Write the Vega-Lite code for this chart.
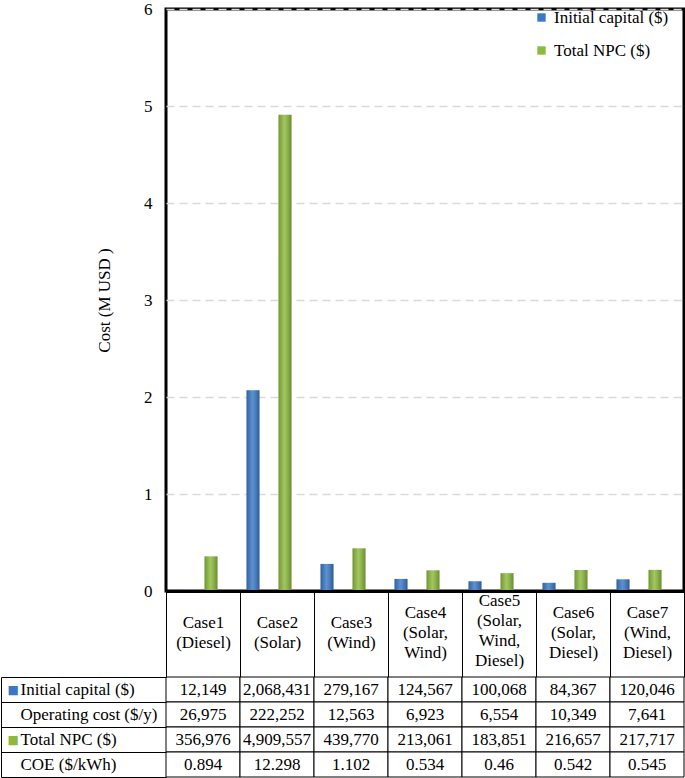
{
  "$schema": "https://vega.github.io/schema/vega-lite/v6.json",
  "background": "white",
  "padding": {"left": 0, "top": -2, "right": 0, "bottom": 2},
  "config": {
    "font": "Liberation Serif",
    "view": {"stroke": null},
    "axis": {"labelFont": "Liberation Serif", "titleFont": "Liberation Serif", "labelColor": "black", "titleColor": "black"},
    "legend": {"labelFont": "Liberation Serif", "labelColor": "black"}
  },
  "data": {
    "values": [
      {"case": "Case1 (Diesel)", "initial": 12149, "operating": 26975, "npc": 356976, "coe": 0.894},
      {"case": "Case2 (Solar)", "initial": 2068431, "operating": 222252, "npc": 4909557, "coe": 12.298},
      {"case": "Case3 (Wind)", "initial": 279167, "operating": 12563, "npc": 439770, "coe": 1.102},
      {"case": "Case4 (Solar, Wind)", "initial": 124567, "operating": 6923, "npc": 213061, "coe": 0.534},
      {"case": "Case5 (Solar, Wind, Diesel)", "initial": 100068, "operating": 6554, "npc": 183851, "coe": 0.46},
      {"case": "Case6 (Solar, Diesel)", "initial": 84367, "operating": 10349, "npc": 216657, "coe": 0.542},
      {"case": "Case7 (Wind, Diesel)", "initial": 120046, "operating": 7641, "npc": 217717, "coe": 0.545}
    ]
  },
  "spacing": 86,
  "bounds": "flush",
  "resolve": {"scale": {"x": "independent", "y": "independent"}},
  "vconcat": [
    {
      "width": 518,
      "height": 582,
      "view": {"stroke": "black", "strokeWidth": 3},
      "transform": [{"fold": ["initial", "npc"], "as": ["key", "amount"]}],
      "encoding": {
        "x": {
          "field": "case", "type": "nominal", "sort": null,
          "scale": {"domain": ["Case1 (Diesel)", "Case2 (Solar)", "Case3 (Wind)", "Case4 (Solar, Wind)", "Case5 (Solar, Wind, Diesel)", "Case6 (Solar, Diesel)", "Case7 (Wind, Diesel)"], "paddingInner": 0, "paddingOuter": 0},
          "axis": {
            "title": null,
            "labelExpr": "datum.value ? split(datum.value, ' ') : ''",
            "labelAngle": 0,
            "labelFontSize": 17, "labelLineHeight": 20, "labelBaseline": "alphabetic",
            "labelPadding": {
              "condition": [
                {"test": "datum.value && length(split(datum.value, ' ')) == 2", "value": -50},
                {"test": "datum.value && length(split(datum.value, ' ')) == 3", "value": -60}
              ],
              "value": -72
            },
            "tickBand": "extent", "tickSize": 86, "tickColor": "black",
            "tickWidth": 1, "domain": true, "domainColor": "black", "domainWidth": 3, "zindex": 1, "labelLimit": 0
          }
        },
        "xOffset": {
          "field": "key", "type": "nominal",
          "scale": {"domain": ["initial", "operating", "npc", "coe"], "paddingInner": 0.1875, "paddingOuter": 0.406}
        },
        "y": {
          "field": "amount", "type": "quantitative",
          "scale": {"domain": [0, 6000000], "nice": false},
          "axis": {
            "title": "Cost (M USD )", "values": [0, 1000000, 2000000, 3000000, 4000000, 5000000, 6000000],
            "labelExpr": "datum.value / 1000000", "grid": true, "gridDash": [8, 5], "gridColor": "#d9d9d9",
            "gridWidth": 1.5, "ticks": false, "domain": false, "labelPadding": 14, "labelFontSize": 17,
            "titleFontSize": 17, "titleFontWeight": "normal", "titlePadding": 30
          }
        }
      },
      "layer": [
        {
          "mark": {"type": "bar"},
          "encoding": {
            "color": {
              "field": "key", "type": "nominal",
              "scale": {"domain": ["initial", "npc"], "range": ["#3a78c6", "#8dba3c"]},
              "legend": {
                "title": null, "orient": "none", "legendX": 367, "legendY": 0, "padding": 0,
                "labelExpr": "datum.value == 'initial' ? 'Initial capital ($)' : 'Total NPC ($)'",
                "symbolType": "square", "symbolSize": 70, "symbolStrokeWidth": 0,
                "labelFontSize": 17, "rowPadding": 15, "labelOffset": 4
              }
            }
          }
        },
        {
          "mark": {
            "type": "bar",
            "color": {
              "gradient": "linear", "x1": 0, "y1": 0, "x2": 1, "y2": 0,
              "stops": [
                {"offset": 0, "color": "rgba(0,0,0,0.2)"},
                {"offset": 0.45, "color": "rgba(255,255,255,0.18)"},
                {"offset": 1, "color": "rgba(0,0,0,0.25)"}
              ]
            }
          }
        }
      ]
    },
    {
      "width": 518,
      "height": 100,
      "transform": [{"fold": ["initial", "operating", "npc", "coe"], "as": ["key", "amount"]}],
      "encoding": {
        "x": {
          "field": "case", "type": "nominal", "sort": null,
          "scale": {"domain": ["Case1 (Diesel)", "Case2 (Solar)", "Case3 (Wind)", "Case4 (Solar, Wind)", "Case5 (Solar, Wind, Diesel)", "Case6 (Solar, Diesel)", "Case7 (Wind, Diesel)"], "paddingInner": 0, "paddingOuter": 0},
          "axis": null
        }
      },
      "layer": [
        {
          "mark": {"type": "rect", "fill": "white", "stroke": "black", "strokeWidth": 1},
          "encoding": {
            "y": {
              "field": "key", "type": "nominal",
              "scale": {"domain": ["initial", "operating", "npc", "coe"], "paddingInner": 0, "paddingOuter": 0},
              "axis": {
                "orient": "left", "title": null,
                "labelExpr": "datum.value == 'initial' ? 'Initial capital ($)' : datum.value == 'operating' ? 'Operating cost ($/y)' : datum.value == 'npc' ? 'Total NPC ($)' : datum.value == 'coe' ? 'COE ($/kWh)' : ''",
                "tickBand": "extent", "tickSize": 165, "tickColor": "black", "tickWidth": 1,
                "domain": false, "labelAlign": "left", "labelPadding": -19, "labelFontSize": 17, "labelLimit": 0
              }
            }
          }
        },
        {
          "mark": {"type": "text", "fontSize": 17, "font": "Liberation Serif", "color": "black"},
          "encoding": {
            "y": {
              "field": "key", "type": "nominal",
              "scale": {"domain": ["initial", "operating", "npc", "coe"], "paddingInner": 0, "paddingOuter": 0},
              "axis": {
                "orient": "left", "title": null, "ticks": false, "domain": true, "domainColor": "black",
                "domainWidth": 1, "offset": 165,
                "labelExpr": "datum.value == 'initial' || datum.value == 'npc' ? '■' : ''",
                "labelColor": {"condition": {"test": "datum.value == 'initial'", "value": "#3a78c6"}, "value": "#8dba3c"},
                "labelAlign": "left", "labelPadding": -6, "labelFont": "DejaVu Sans", "labelFontSize": 12
              }
            },
            "text": {"field": "amount", "type": "quantitative", "format": ",.3~f"}
          }
        }
      ],
      "resolve": {"axis": {"y": "independent"}}
    }
  ]
}
